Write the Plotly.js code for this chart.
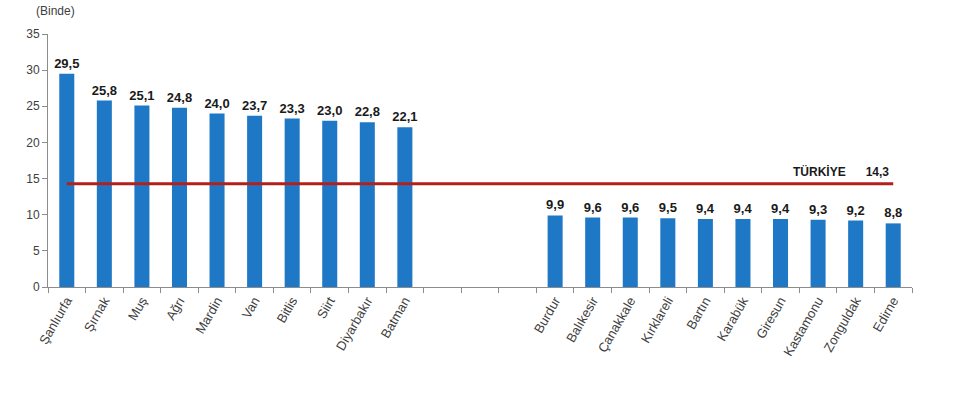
<!DOCTYPE html>
<html>
<head>
<meta charset="utf-8">
<script src="https://cdn.plot.ly/plotly-3.0.1.min.js"></script>
<style>
  html, body { margin: 0; padding: 0; background: #fff; }
  #chart { width: 955px; height: 393px; }
</style>
</head>
<body>
<div id="chart"></div>
<script>
// Highest ten provinces
const topProvinces = ['Şanlıurfa', 'Şırnak', 'Muş', 'Ağrı', 'Mardin', 'Van', 'Bitlis', 'Siirt', 'Diyarbakır', 'Batman'];
const topValues = [29.5, 25.8, 25.1, 24.8, 24.0, 23.7, 23.3, 23.0, 22.8, 22.1];

// Lowest ten provinces
const lowProvinces = ['Burdur', 'Balıkesir', 'Çanakkale', 'Kırklareli', 'Bartın', 'Karabük', 'Giresun', 'Kastamonu', 'Zonguldak', 'Edirne'];
const lowValues = [9.9, 9.6, 9.6, 9.5, 9.4, 9.4, 9.4, 9.3, 9.2, 8.8];

// Country average
const turkeyLabel = 'TÜRKİYE';
const turkeyValue = 14.3;

// Empty slots separating the two groups
const spacers = [' ', '  ', '   '];

const fmt = v => v.toFixed(1).replace('.', ',');

const xCats = topProvinces.concat(spacers, lowProvinces);
const yVals = topValues.concat(spacers.map(() => null), lowValues);
const txt = yVals.map(v => (v === null ? '' : fmt(v)));

const bars = {
  type: 'bar',
  x: xCats,
  y: yVals,
  text: txt,
  textposition: 'outside',
  constraintext: 'none',
  cliponaxis: false,
  textfont: { family: 'Liberation Sans, Arial, sans-serif', size: 13, color: '#1a1a1a', weight: 'bold' },
  marker: { color: '#1f78c6' },
  width: 0.4,
  hoverinfo: 'x+y',
  showlegend: false
};

const avgLine = {
  type: 'scatter',
  mode: 'lines',
  x: [topProvinces[0], lowProvinces[lowProvinces.length - 1]],
  y: [turkeyValue, turkeyValue],
  line: { color: '#b3201c', width: 3 },
  hoverinfo: 'skip',
  showlegend: false
};

const layout = {
  width: 955,
  height: 393,
  margin: { l: 48, r: 43, t: 34, b: 106 },
  paper_bgcolor: '#ffffff',
  plot_bgcolor: '#ffffff',
  font: { family: 'Liberation Sans, Arial, sans-serif', size: 12, color: '#404040' },
  xaxis: {
    type: 'category',
    categoryorder: 'array',
    categoryarray: xCats,
    tickson: 'boundaries',
    ticks: 'outside',
    ticklen: 5,
    tickcolor: '#8c8c8c',
    showline: true,
    linecolor: '#8c8c8c',
    linewidth: 1,
    showgrid: false,
    zeroline: false,
    tickangle: -60,
    tickfont: { size: 13, color: '#404040' },
    fixedrange: true
  },
  yaxis: {
    range: [0, 35],
    tickvals: [0, 5, 10, 15, 20, 25, 30, 35],
    ticks: 'outside',
    ticklen: 5,
    tickcolor: '#8c8c8c',
    showline: true,
    linecolor: '#8c8c8c',
    linewidth: 1,
    showgrid: false,
    zeroline: false,
    tickfont: { size: 12, color: '#404040' },
    fixedrange: true
  },
  annotations: [
    {
      xref: 'paper', yref: 'paper',
      x: -0.016, y: 1.055,
      xanchor: 'left', yanchor: 'bottom',
      text: '(Binde)',
      showarrow: false,
      font: { size: 12, color: '#404040' }
    },
    {
      xref: 'x', yref: 'y',
      x: 'Zonguldak', y: turkeyValue,
      xshift: -15, yshift: 3,
      xanchor: 'center', yanchor: 'bottom',
      text: '<b>' + turkeyLabel + '</b>      <b>' + fmt(turkeyValue) + '</b>',
      showarrow: false,
      font: { size: 12, color: '#1a1a1a' }
    }
  ]
};

Plotly.newPlot('chart', [bars, avgLine], layout, { displayModeBar: false, staticPlot: true });
</script>
</body>
</html>
